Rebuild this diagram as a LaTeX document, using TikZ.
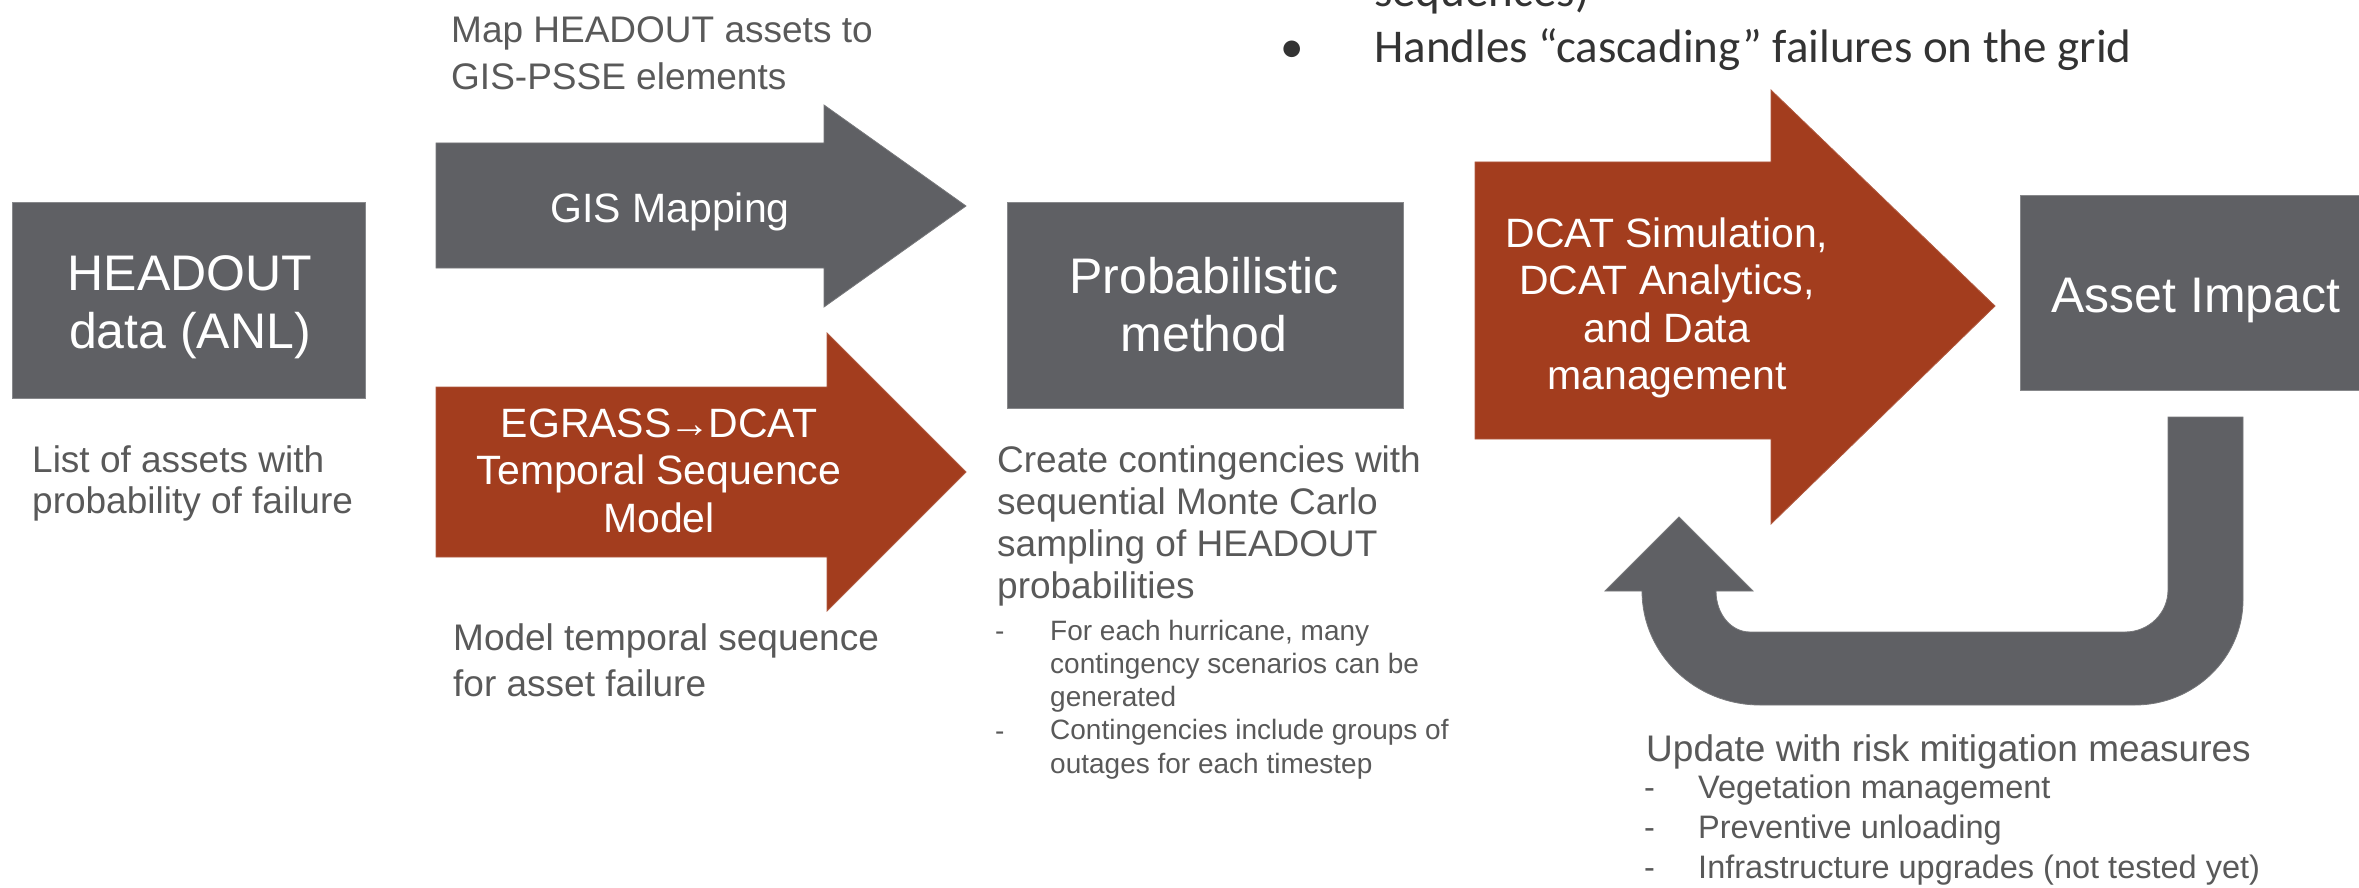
\documentclass[tikz,border=0pt]{standalone}
\usepackage{fontspec}
\setmainfont{Liberation Sans}
\newfontfamily\calibfont{Carlito}
\definecolor{boxgray}{HTML}{5F6064}
\definecolor{rust}{HTML}{A33D1E}
\definecolor{txtgray}{HTML}{595959}
\begin{document}
\begin{tikzpicture}[x=1pt,y=-1pt,
  graybox/.style={fill=boxgray, draw=boxgray!75!white, line width=1pt, inner sep=0pt, anchor=north west},
  grayshape/.style={fill=boxgray, draw=boxgray!85!white, line width=0.8pt},
  rustshape/.style={fill=rust, draw=rust!85!white, line width=0.8pt},
  wtext/.style={text=white, inner sep=0pt, align=center},
  ann/.style={text=txtgray, inner sep=0pt, align=left, anchor=base west},
  big/.style={font=\fontsize{50}{58}\selectfont},
  mid/.style={font=\fontsize{41}{47.5}\selectfont},
  norm/.style={font=\fontsize{37}{47}\selectfont},
  small/.style={font=\fontsize{28}{33.25}\selectfont},
  item/.style={font=\fontsize{32.5}{40}\selectfont}]
\useasboundingbox (0,0) rectangle (2359,888);
\clip (0,0) rectangle (2359,888);

% boxes
\node[graybox, minimum width=353, minimum height=196] (headout) at (12,202) {};
\node[graybox, minimum width=396, minimum height=206] (prob) at (1007,202) {};
\node[graybox, minimum width=350, minimum height=195] (impact) at (2020,195) {};

% block arrows
\path[grayshape] (436,143) -- (824,143) -- (824,105) -- (966,206) -- (824,307) -- (824,268) -- (436,268) -- cycle;
\path[rustshape] (436,387) -- (827,387) -- (827,333) -- (966,472) -- (827,611) -- (827,557) -- (436,557) -- cycle;
\path[rustshape] (1475,162) -- (1771,162) -- (1771,90) -- (1995,306) -- (1771,524) -- (1771,439) -- (1475,439) -- cycle;

% U-turn arrow
\path[grayshape] (2243,417) -- (2243,600)
  .. controls (2243,658) and (2194,705) .. (2135,705)
  -- (1760,705)
  .. controls (1695,705) and (1642,654) .. (1642,591)
  -- (1605,591) -- (1679,517) -- (1753,591) -- (1716,591)
  .. controls (1716,614) and (1731,632) .. (1750,632)
  -- (2125,632)
  .. controls (2149,632) and (2168,613) .. (2168,590)
  -- (2168,417) -- cycle;

% texts in shapes (base anchor = baseline of the last line)
\node[wtext, big, anchor=base] (headoutT) at (190,348) {HEADOUT\\data (ANL)};
\node[wtext, mid, anchor=base] (gisT) at (670,222) {GIS Mapping};
\node[wtext, mid, anchor=base] (egrassT) at (659,532) {EGRASS\kern-2pt→\kern-2pt DCAT\\Temporal Sequence\\Model};
\node[wtext, big, anchor=base] (probT) at (1204,351) {Probabilistic\\method};
\node[wtext, mid, anchor=base] (dcatT) at (1667,389.5) {DCAT Simulation,\\DCAT Analytics,\\and Data\\management};
\node[wtext, big, anchor=base] (impactT) at (2196,312) {Asset Impact};

% annotations
\node[ann, norm] (mapT) at (451,90) {Map HEADOUT assets to\\GIS-PSSE elements};
\node[ann, font=\fontsize{37}{41}\selectfont] (listT) at (32,513) {List of assets with\\probability of failure};
\node[ann, font=\fontsize{37}{46}\selectfont] (modelT) at (453,696) {Model temporal sequence\\for asset failure};
\node[ann, font=\fontsize{37}{42}\selectfont] (createT) at (997,598) {Create contingencies with\\sequential Monte Carlo\\sampling of HEADOUT\\probabilities};
\node[ann, small] (dashA) at (995,640) {-};
\node[ann, small] (dashB) at (995,740) {-};
\node[ann, small] (subT) at (1050,773) {For each hurricane, many\\contingency scenarios can be\\generated\\Contingencies include groups of\\outages for each timestep};
\node[ann, font=\fontsize{37}{45}\selectfont] (updT) at (1646,761) {Update with risk mitigation measures};
\node[ann, item] (dashC) at (1644,878) {-\\-\\-};
\node[ann, item] (itemsT) at (1698,878) {Vegetation management\\Preventive unloading\\Infrastructure upgrades (not tested yet)};

% top right text (Calibri-like)
\node[ann, text=black!80, font=\calibfont\fontsize{47}{57}\selectfont] (seqT) at (1374,7) {sequences)};
\node[ann, text=black!80, font=\calibfont\fontsize{47}{57}\selectfont] (bulletT) at (1280,63) {•};
\node[ann, text=black!80, font=\calibfont\fontsize{47}{57}\selectfont] (handT) at (1374,63) {Handles “cascading” failures on the grid};
\end{tikzpicture}
\end{document}
